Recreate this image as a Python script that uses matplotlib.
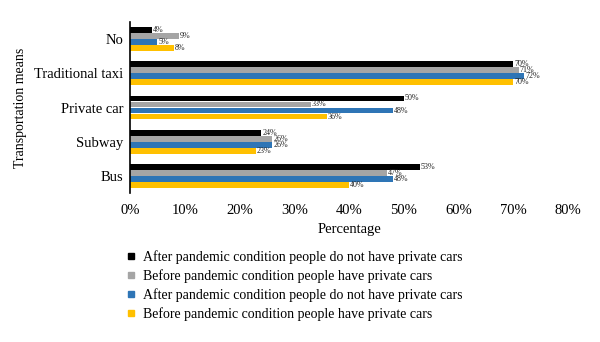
import numpy as np
import matplotlib
matplotlib.use("Agg")
import matplotlib.pyplot as plt
from matplotlib.lines import Line2D

plt.rcParams['font.family'] = ['Liberation Serif', 'DejaVu Serif']

categories = ['No', 'Traditional taxi', 'Private car', 'Subway', 'Bus']
series_names = [
    'After pandemic condition people do not have private cars',
    'Before pandemic condition people have private cars',
    'After pandemic condition people do not have private cars',
    'Before pandemic condition people have private cars',
]
after_no_car = [4, 70, 50, 24, 53]
before_car = [9, 71, 33, 26, 47]
after_no_car_2 = [5, 72, 48, 26, 48]
before_car_2 = [8, 70, 36, 23, 40]
colors = ['#000000', '#A5A5A5', '#2E75B6', '#FFC000']

xticks = [0, 10, 20, 30, 40, 50, 60, 70, 80]

fig = plt.figure(figsize=(6.0, 3.42), dpi=100)
ax = fig.add_axes([130/600, 1 - 193/342, 438/600, 171/342])

y = np.arange(len(categories))
h = 0.176
all_series = [after_no_car, before_car, after_no_car_2, before_car_2]
for i, (vals, c) in enumerate(zip(all_series, colors)):
    pos = y + (i - 1.5) * h
    ax.barh(pos, vals, height=h * 0.94, color=c)
    for p, v in zip(pos, vals):
        ax.text(v + 0.15, p, f'{v}%', va='center', ha='left', fontsize=5.8, color='#222222')

ax.set_ylim(len(categories) - 0.5, -0.5)
ax.set_xlim(0, 80)
ax.set_xticks(xticks)
ax.set_xticklabels([f'{t}%' for t in xticks], fontsize=10.5)
ax.set_yticks(y)
ax.set_yticklabels(categories, fontsize=10.5)
ax.tick_params(length=0, pad=5)
ax.tick_params(axis='x', pad=8)
for s in ['top', 'right', 'bottom']:
    ax.spines[s].set_visible(False)
ax.spines['left'].set_linewidth(1.2)
ax.set_xlabel('Percentage', fontsize=10.5, labelpad=4)
ax.set_ylabel('Transportation means', fontsize=10)
ax.yaxis.set_label_coords(-0.235, 0.5)

handles = [Line2D([], [], marker='s', linestyle='none', markersize=5, color=c) for c in colors]
fig.legend(handles, series_names, loc='upper left', bbox_to_anchor=(124/600, 1 - 250/342),
           frameon=False, fontsize=10, handletextpad=0.4, labelspacing=0.38,
           handlelength=1.0, borderaxespad=0, borderpad=0)

fig.savefig('out.png', dpi=100)
